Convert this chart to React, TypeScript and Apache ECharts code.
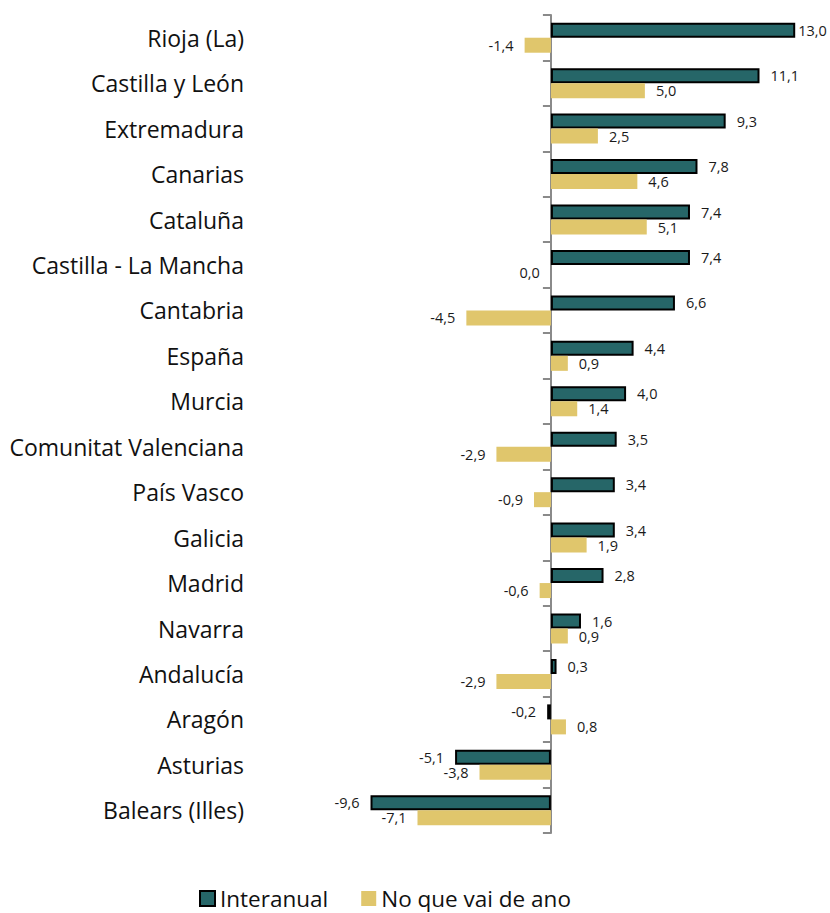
import React, { useEffect, useRef } from "react";
import * as echarts from "echarts";

const categories = [
  "Rioja (La)",
  "Castilla y León",
  "Extremadura",
  "Canarias",
  "Cataluña",
  "Castilla - La Mancha",
  "Cantabria",
  "España",
  "Murcia",
  "Comunitat Valenciana",
  "País Vasco",
  "Galicia",
  "Madrid",
  "Navarra",
  "Andalucía",
  "Aragón",
  "Asturias",
  "Balears (Illes)",
];

const interanual = [13.0, 11.1, 9.3, 7.8, 7.4, 7.4, 6.6, 4.4, 4.0, 3.5, 3.4, 3.4, 2.8, 1.6, 0.3, -0.2, -5.1, -9.6];
const noQueVaiDeAno = [-1.4, 5.0, 2.5, 4.6, 5.1, 0.0, -4.5, 0.9, 1.4, -2.9, -0.9, 1.9, -0.6, 0.9, -2.9, 0.8, -3.8, -7.1];

const seriesNames = ["Interanual", "No que vai de ano"];

const FONT = "'Open Sans', sans-serif";
const fmt = (v: number) => v.toFixed(1).replace(".", ",");

const buildData = (vals: number[], isFirst: boolean) =>
  vals.map((v) => ({
    value: v,
    label: {
      position: v > 0 ? "right" : "left",
      distance: isFirst && v > 12 ? 3 : 11,
    },
  }));

export default function App() {
  const ref = useRef<HTMLDivElement>(null);
  useEffect(() => {
    if (!ref.current) return;
    const chart = echarts.init(ref.current, undefined, { renderer: "svg" });
    const labelStyle = {
      show: true,
      color: "#1a1a1a",
      fontFamily: FONT,
      fontSize: 14.5,
      formatter: (p: any) => fmt(p.value),
    };
    chart.setOption({
      animation: false,
      backgroundColor: "#ffffff",
      grid: {
        left: 363,
        right: 16,
        top: 15,
        height: 818,
        containLabel: false,
        outerBoundsMode: "none",
      },
      legend: {
        left: 199,
        top: 887,
        padding: 0,
        itemWidth: 15,
        itemHeight: 15,
        itemGap: 33,
        icon: "rect",
        textStyle: { fontFamily: FONT, fontSize: 22.5, color: "#111" },
        data: seriesNames,
      },
      xAxis: {
        type: "value",
        min: -10,
        max: 14,
        show: false,
        splitLine: { show: false },
      },
      yAxis: {
        type: "category",
        inverse: true,
        data: categories,
        axisLine: { show: true, onZero: true, lineStyle: { color: "#8a8a8a", width: 2 } },
        axisTick: { show: true, length: 8, lineStyle: { color: "#8a8a8a", width: 2 } },
        axisLabel: {
          margin: 119,
          fontFamily: FONT,
          fontSize: 23,
          color: "#111",
        },
      },
      series: [
        {
          name: seriesNames[0],
          type: "bar",
          barWidth: 15,
          barGap: "0%",
          itemStyle: { color: "#266668", borderColor: "#000", borderWidth: 2 },
          label: labelStyle,
          data: buildData(interanual, true),
        },
        {
          name: seriesNames[1],
          type: "bar",
          barWidth: 15,
          barGap: "0%",
          itemStyle: { color: "#E0C66C" },
          label: labelStyle,
          data: buildData(noQueVaiDeAno, false),
        },
      ],
    });
    return () => chart.dispose();
  }, []);
  return (
    <div
      ref={ref}
      style={{ position: "fixed", left: 0, top: 0, width: 830, height: 913 }}
    />
  );
}
